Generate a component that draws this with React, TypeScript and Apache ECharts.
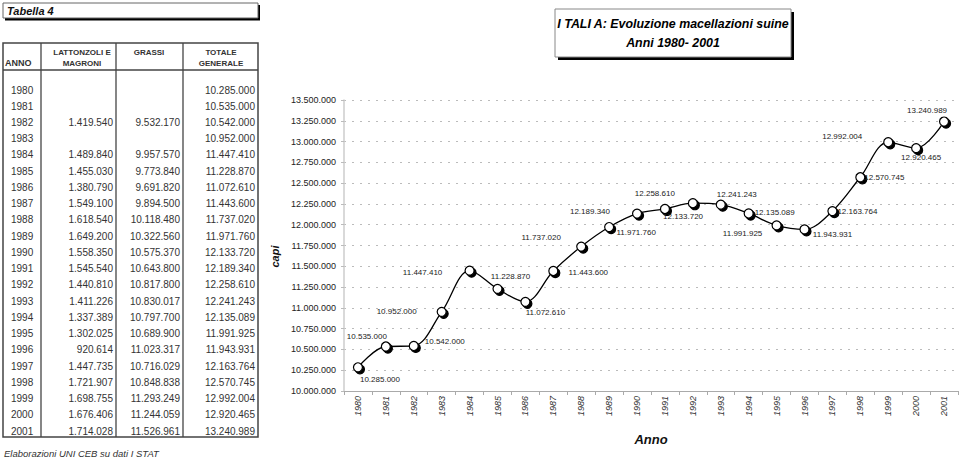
import React, { useEffect, useRef } from "react";
import * as echarts from "echarts";

const years = ["1980","1981","1982","1983","1984","1985","1986","1987","1988","1989","1990","1991","1992","1993","1994","1995","1996","1997","1998","1999","2000","2001"];
const lattonzoli: (number | null)[] = [null, null, 1419540, null, 1489840, 1455030, 1380790, 1549100, 1618540, 1649200, 1558350, 1545540, 1440810, 1411226, 1337389, 1302025, 920614, 1447735, 1721907, 1698755, 1676406, 1714028];
const grassi: (number | null)[] = [null, null, 9532170, null, 9957570, 9773840, 9691820, 9894500, 10118480, 10322560, 10575370, 10643800, 10817800, 10830017, 10797700, 10689900, 11023317, 10716029, 10848838, 11293249, 11244059, 11526961];
const totale: number[] = [10285000, 10535000, 10542000, 10952000, 11447410, 11228870, 11072610, 11443600, 11737020, 11971760, 12133720, 12189340, 12258610, 12241243, 12135089, 11991925, 11943931, 12163764, 12570745, 12992004, 12920465, 13240989];

// label placement (offset from point centre), layout only
const labelOffsets: [number, number][] = [
  [22, 12], [-19, -10], [31, -4], [-45, 0], [-47, 2], [13, -12], [20, 11], [35, 2],
  [-40, -9], [27, 5], [46, 3], [-75, 3], [-38, -10], [16, -10], [26, -1], [-34, 8],
  [28, 5], [25, 0], [24, 0], [-46, -6], [5, 9], [-17, -11],
];

const headerTop = ["", "LATTONZOLI E", "GRASSI", "TOTALE"];
const headerBottom = ["ANNO", "MAGRONI", "", "GENERALE"];
const tableTitle = "Tabella 4";
const chartTitle1 = "I TALI A: Evoluzione macellazioni suine";
const chartTitle2 = "Anni 1980- 2001";
const sourceNote = "Elaborazioni UNI CEB su dati I STAT";

const fmt = (n: number | null) =>
  n == null ? "" : String(Math.round(n)).replace(/\B(?=(\d{3})+(?!\d))/g, ".");

const FONT = "'Liberation Sans', Arial, Helvetica, sans-serif";

function txt(x: number, y: number, text: string, opts: any = {}) {
  const align = opts.align || "left";
  return {
    type: "text",
    x,
    y,
    silent: true,
    style: {
      text,
      fill: opts.fill || "#222",
      fontSize: opts.fontSize || 9,
      fontFamily: FONT,
      fontStyle: opts.fontStyle || "normal",
      fontWeight: opts.fontWeight || "normal",
      align,
      textAlign: align,
      verticalAlign: "middle",
      textVerticalAlign: "middle",
    },
  };
}

function buildGraphics() {
  const g: any[] = [];
  // Tabella 4 box
  g.push({ type: "rect", shape: { x: 5, y: 5, width: 255, height: 15.5 }, style: { fill: "#000" } });
  g.push({ type: "rect", shape: { x: 3, y: 3, width: 255, height: 15 }, style: { fill: "#fff", stroke: "#666", lineWidth: 1 } });
  g.push(txt(7, 11, tableTitle, { fontSize: 11, fontStyle: "italic", fontWeight: "bold", fill: "#111" }));

  // table frame
  const tx = 3, ty = 43, tw = 255, th = 394;
  const cols = [3, 41, 116, 183, 258];
  g.push({ type: "rect", shape: { x: tx, y: ty, width: tw, height: th }, style: { fill: "none", stroke: "#444", lineWidth: 1.5 } });
  for (let c = 1; c < 4; c++) {
    g.push({ type: "line", shape: { x1: cols[c], y1: ty, x2: cols[c], y2: ty + th }, style: { stroke: "#444", lineWidth: 1.3 } });
  }
  g.push({ type: "line", shape: { x1: tx, y1: 70, x2: tx + tw, y2: 70 }, style: { stroke: "#444", lineWidth: 1.3 } });
  // header
  const centers = [20, 82, 149, 221];
  headerTop.forEach((h, i) => {
    if (h) g.push(txt(centers[i], 52, h, { align: "center", fontSize: 8, fontWeight: "bold", fill: "#333" }));
  });
  headerBottom.forEach((h, i) => {
    if (!h) return;
    if (i === 0) g.push(txt(5, 63, h, { fontSize: 9, fontWeight: "bold", fill: "#333" }));
    else g.push(txt(centers[i], 63, h, { align: "center", fontSize: 8, fontWeight: "bold", fill: "#333" }));
  });
  // rows
  years.forEach((yr, i) => {
    const y = 90 + i * 16.24;
    g.push(txt(11, y, yr, { fontSize: 10, fill: "#333" }));
    g.push(txt(113, y, fmt(lattonzoli[i]), { align: "right", fontSize: 10, fill: "#333" }));
    g.push(txt(180, y, fmt(grassi[i]), { align: "right", fontSize: 10, fill: "#333" }));
    g.push(txt(255, y, fmt(totale[i]), { align: "right", fontSize: 10, fill: "#333" }));
  });
  g.push(txt(4, 453, sourceNote, { fontSize: 9.5, fontStyle: "italic", fill: "#333" }));

  // chart title box
  g.push({ type: "rect", shape: { x: 558, y: 12, width: 236, height: 48 }, style: { fill: "#000" } });
  g.push({ type: "rect", shape: { x: 555, y: 9, width: 236, height: 48 }, style: { fill: "#fff", stroke: "#888", lineWidth: 1 } });
  g.push(txt(673, 24, chartTitle1, { align: "center", fontSize: 12.4, fontStyle: "italic", fontWeight: "bold", fill: "#000" }));
  g.push(txt(673, 43, chartTitle2, { align: "center", fontSize: 12.4, fontStyle: "italic", fontWeight: "bold", fill: "#000" }));
  return g;
}

export default function App() {
  const ref = useRef<HTMLDivElement>(null);
  useEffect(() => {
    if (!ref.current) return;
    const chart = echarts.init(ref.current, null, { renderer: "svg" });
    chart.setOption({
      animation: false,
      backgroundColor: "#fff",
      textStyle: { fontFamily: FONT },
      grid: { left: 344, right: 2, top: 100, bottom: 69, containLabel: false },
      xAxis: {
        type: "category",
        data: years,
        boundaryGap: true,
        name: "Anno",
        nameLocation: "middle",
        nameGap: 42,
        nameTextStyle: { fontSize: 13, fontStyle: "italic", fontWeight: "bold", color: "#111", fontFamily: FONT },
        axisLine: { lineStyle: { color: "#aaa", width: 1 } },
        axisTick: { show: true, interval: 0, alignWithLabel: false, length: 4, lineStyle: { color: "#aaa" } },
        axisLabel: { rotate: 90, interval: 0, fontSize: 9, fontStyle: "italic", color: "#333", margin: 5, fontFamily: FONT },
        splitLine: { show: false },
      },
      yAxis: {
        type: "value",
        min: 10000000,
        max: 13500000,
        interval: 250000,
        name: "capi",
        nameLocation: "middle",
        nameGap: 50,
        nameRotate: 90,
        nameTextStyle: { fontSize: 11, fontStyle: "italic", fontWeight: "bold", color: "#111", fontFamily: FONT, padding: [0, 22, 0, 0] },
        axisLine: { show: true, lineStyle: { color: "#ccc", width: 1.5 } },
        axisTick: { show: true, length: 3, lineStyle: { color: "#bbb" } },
        axisLabel: { fontSize: 9, color: "#222", margin: 8, fontFamily: FONT, formatter: (v: number) => fmt(v) },
        splitLine: { show: true, lineStyle: { color: "#bbb", type: [2, 6], width: 1 } },
      },
      series: [
        {
          type: "line",
          data: totale.map((v, i) => ({
            value: v,
            label: { offset: labelOffsets[i] },
          })),
          smooth: 0.35,
          symbol: "circle",
          symbolSize: 9,
          lineStyle: { color: "#000", width: 1.3 },
          itemStyle: {
            color: "#fff",
            borderColor: "#000",
            borderWidth: 1.2,
            shadowColor: "rgba(0,0,0,1)",
            shadowOffsetX: 2,
            shadowOffsetY: 2,
            shadowBlur: 1,
          },
          label: {
            show: true,
            position: "inside",
            fontSize: 8,
            color: "#222",
            fontFamily: FONT,
            formatter: (p: any) => fmt(p.value),
          },
          emphasis: { disabled: true },
        },
      ],
      graphic: buildGraphics(),
    });
    return () => chart.dispose();
  }, []);
  return <div ref={ref} style={{ position: "absolute", left: 0, top: 0, width: 960, height: 460 }} />;
}
